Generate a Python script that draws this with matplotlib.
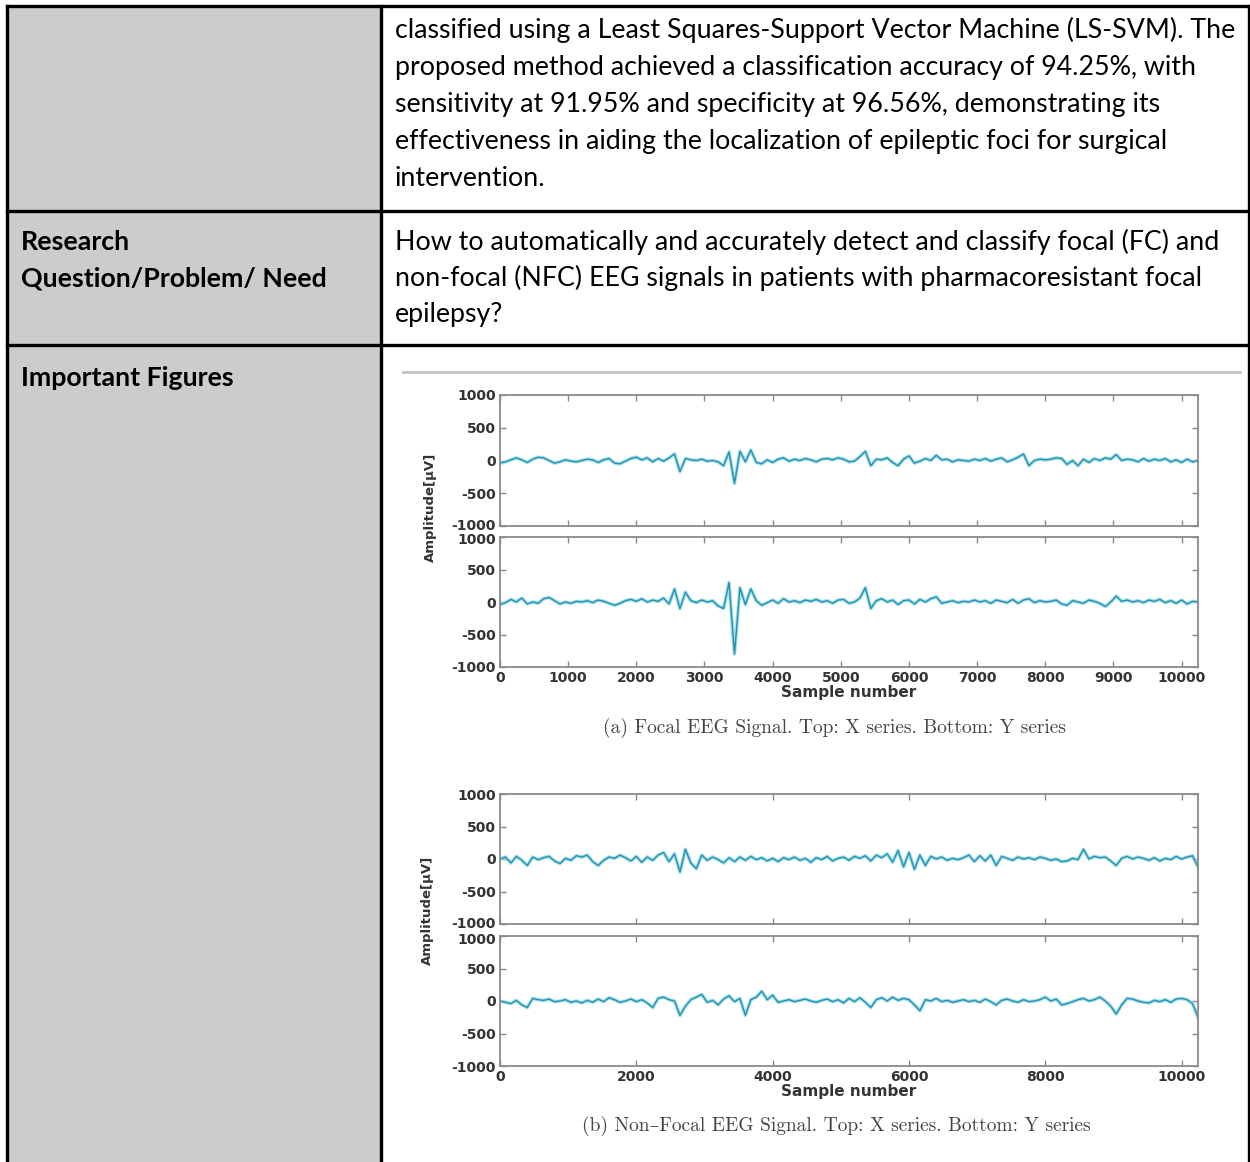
import numpy as np
import matplotlib.pyplot as plt
import matplotlib.transforms as mtransforms
from matplotlib.patches import Rectangle

plt.rcParams['axes.unicode_minus'] = False

W, H = 1250, 1162

# --- texto de la tabla ---
fila1 = [
    "classified using a Least Squares-Support Vector Machine (LS-SVM). The",
    "proposed method achieved a classification accuracy of 94.25%, with",
    "sensitivity at 91.95% and specificity at 96.56%, demonstrating its",
    "effectiveness in aiding the localization of epileptic foci for surgical",
    "intervention.",
]
fila2 = [
    "How to automatically and accurately detect and classify focal (FC) and",
    "non-focal (NFC) EEG signals in patients with pharmacoresistant focal",
    "epilepsy?",
]
etiquetas = ["Research", "Question/Problem/ Need", "Important Figures"]

# --- señales EEG (amplitud en uV, una muestra cada 80) ---
focal_x = [
    -40, -20, 10, 40, 10, -30, 20, 50, 40, 0, -40, -20, 10, -10, -20, 0,
    20, 10, -30, 10, 30, -40, -50, -10, 30, 50, 10, 40, -20, 30, -10, 40,
    100, -170, 30, 10, 0, 20, -10, 0, -20, -80, 130, -350, 140, -20, 160, -30,
    -50, 10, -30, 20, 40, -10, 20, 0, 30, 10, -20, 20, 30, 10, 40, 20,
    -20, -10, 60, 140, -80, 20, 10, 40, -30, -80, 20, 70, -40, -10, 30, 0,
    80, 10, 20, -20, 10, 0, -10, 20, 0, 30, -10, 20, 40, -20, 10, 50,
    100, -80, 0, 20, 10, 20, 40, 30, -60, 0, -80, 20, -30, 30, 0, 40,
    20, 90, 0, 20, 10, -20, 30, -10, 20, 0, 30, -20, 10, -30, 20, -20,
    0,
]
focal_y = [
    -40, -10, 40, 0, 60, -30, 0, -20, 50, 70, 20, -30, 0, -20, 10, 0,
    20, -10, 30, 10, -20, -50, -20, 20, 40, 10, 50, 0, 30, 10, 60, -30,
    200, -100, 150, 20, -10, 30, 0, 20, -60, -100, 300, -800, 220, -40, 200, 20,
    -50, -10, 30, -20, 50, 0, 20, -10, 30, 10, 40, 0, 20, -20, 30, 40,
    -20, 0, 60, 220, -100, 20, 50, 0, 30, -40, 20, 30, -30, 40, 0, 50,
    80, -20, 0, 20, -10, 10, 0, 30, 0, 20, -20, 30, 10, -10, 40, -20,
    30, 50, -10, 20, 0, 10, 30, -30, -50, 20, 0, -20, 30, 10, -20, -70,
    0, 90, 10, 30, 0, 20, -10, 30, 10, 40, -10, 20, -20, 30, -30, 10,
    0,
]
nofocal_x = [
    0, 30, -60, 40, -20, -100, 30, -10, 20, 40, -30, -70, 10, -20, 50, 30,
    60, -40, -100, -20, 30, 10, 60, 20, -30, 40, -50, 30, -20, 60, 100, -40,
    80, -200, 150, -60, -150, 60, -20, 30, -10, -60, 20, -40, 30, -20, 40, -10,
    20, -30, 10, -40, 20, -10, 30, -20, 10, -50, 20, -10, 40, -30, 10, 30,
    -20, 40, 10, 50, -30, 60, 20, 80, -50, 130, -120, 100, -160, 60, -100, 40,
    0, 30, -20, 10, -10, 20, 60, -40, 50, -30, 60, -100, 40, 10, -20, 30,
    0, 20, -10, 30, 10, -20, 0, -40, -30, 10, -10, 150, 0, 40, 20, 30,
    -30, -100, 10, 40, 0, 30, 10, -20, 20, -30, 10, -10, 40, 0, 30, 50,
    -120,
]
nofocal_y = [
    0, -20, -40, 10, -60, -100, 40, 20, 10, 30, -10, 0, 20, -20, 0, -30,
    10, -20, 30, -10, 50, 20, -20, 0, 30, -10, 20, -30, -100, 40, 60, 20,
    0, -220, -80, 20, 60, 100, -20, 10, -60, 30, 80, -10, 40, -220, 20, 60,
    150, 20, 90, -20, 0, 20, -10, 10, 30, 0, -20, 10, 30, -10, 20, -30,
    40, -10, 50, -20, -100, 20, 50, 0, 60, 10, 40, 20, -60, -150, 20, 0,
    40, -10, 10, -20, 0, 20, -10, 10, -20, 30, -10, -60, 10, 30, 0, -20,
    20, -10, 0, 20, 60, 0, 30, -60, -40, -10, 20, 40, 0, 20, 60, 0,
    -80, -200, -60, 40, 30, 0, -20, -30, 10, -10, 20, -20, 30, 40, 20, -40,
    -250,
]
n_muestras = 10240
yticks = [-1000, -500, 0, 500, 1000]
leyenda_a = "(a) Focal EEG Signal. Top: X series. Bottom: Y series"
leyenda_b = "(b) Non\u2013Focal EEG Signal. Top: X series. Bottom: Y series"

fig = plt.figure(figsize=(W / 100, H / 100), dpi=100)

# fondo con la tabla, en coordenadas de pixel
bg = fig.add_axes([0, 0, 1, 1])
bg.set_xlim(0, W)
bg.set_ylim(H, 0)
bg.axis('off')

bg.add_patch(Rectangle((7, 6), 374, H, facecolor='#cccccc', edgecolor='none'))
lw_tabla = 2.4
for y in [6, 211, 345]:
    bg.plot([7, 1249], [y, y], color='black', lw=lw_tabla, solid_capstyle='projecting')
for x in [7, 381, 1249]:
    bg.plot([x, x], [6, H + 5], color='black', lw=lw_tabla, solid_capstyle='projecting')

fuente = dict(family='Lato', fontsize=19.3, color='black', va='baseline')
for i, linea in enumerate(fila1):
    bg.text(395, 38 + 37 * i, linea, **fuente)
for i, linea in enumerate(fila2):
    bg.text(395, 250 + 36 * i, linea, **fuente)
for texto, y in zip(etiquetas, [250, 286, 386]):
    bg.text(21, y, texto, fontweight='bold', **fuente)

# linea gris bajo el titulo recortado de la figura
bg.plot([403, 1240], [372, 372], color='#c4c4c4', lw=2)


def ejes(t, b, l=500, r=1198):
    return fig.add_axes([l / W, 1 - b / H, (r - l) / W, (b - t) / H])


def dibujar(ax, senal, xticks, etiquetas_x):
    x = np.linspace(0, n_muestras, len(senal))
    ax.plot(x, senal, color='#9fe0ee', lw=2.6, solid_joinstyle='round')
    ax.plot(x, senal, color='#2a8fae', lw=1.0)
    ax.set_xlim(0, n_muestras)
    ax.set_ylim(-1000, 1000)
    ax.set_yticks(yticks)
    ax.set_xticks(xticks)
    ax.tick_params(direction='in', top=True, right=True, length=4,
                   width=1, color='#8a8a8a', labelsize=10,
                   labelcolor='#333333', pad=3)
    for lab in ax.get_yticklabels() + ax.get_xticklabels():
        lab.set_fontweight('bold')
    if not etiquetas_x:
        ax.set_xticklabels([])
    for s in ax.spines.values():
        s.set_color('#8a8a8a')
        s.set_linewidth(1.3)


def separar(ax_arriba, ax_abajo, px=2):
    # los rotulos -1000 y 1000 de ejes contiguos quedan muy juntos
    sube = mtransforms.ScaledTranslation(0, px / 100, fig.dpi_scale_trans)
    baja = mtransforms.ScaledTranslation(0, -px / 100, fig.dpi_scale_trans)
    lab = ax_arriba.get_yticklabels()[0]
    lab.set_transform(lab.get_transform() + sube)
    lab = ax_abajo.get_yticklabels()[-1]
    lab.set_transform(lab.get_transform() + baja)


xt_a = list(range(0, 10001, 1000))
xt_b = list(range(0, 10001, 2000))

ax1 = ejes(395, 526)
dibujar(ax1, focal_x, xt_a, False)
ax2 = ejes(537, 667)
dibujar(ax2, focal_y, xt_a, True)
ax3 = ejes(794, 924)
dibujar(ax3, nofocal_x, xt_b, False)
ax4 = ejes(936, 1066)
dibujar(ax4, nofocal_y, xt_b, True)
separar(ax1, ax2)
separar(ax3, ax4)

for ax in [ax2, ax4]:
    ax.set_xlabel('Sample number', fontsize=11, fontweight='bold',
                  color='#333333', labelpad=0)

etq = dict(fontsize=9.5, fontweight='bold', color='#333333',
           rotation=90, ha='center', va='center')
bg.text(430, 507, 'Amplitude[\u03bcV]', **etq)
bg.text(427, 910, 'Amplitude[\u03bcV]', **etq)

cap = dict(family=['cmr10', 'DejaVu Serif'], fontsize=14, color='#444444',
           ha='center', va='center')
bg.text(834, 728, leyenda_a, **cap)
bg.text(836, 1126, leyenda_b, **cap)

fig.savefig('out.png', dpi=100)
